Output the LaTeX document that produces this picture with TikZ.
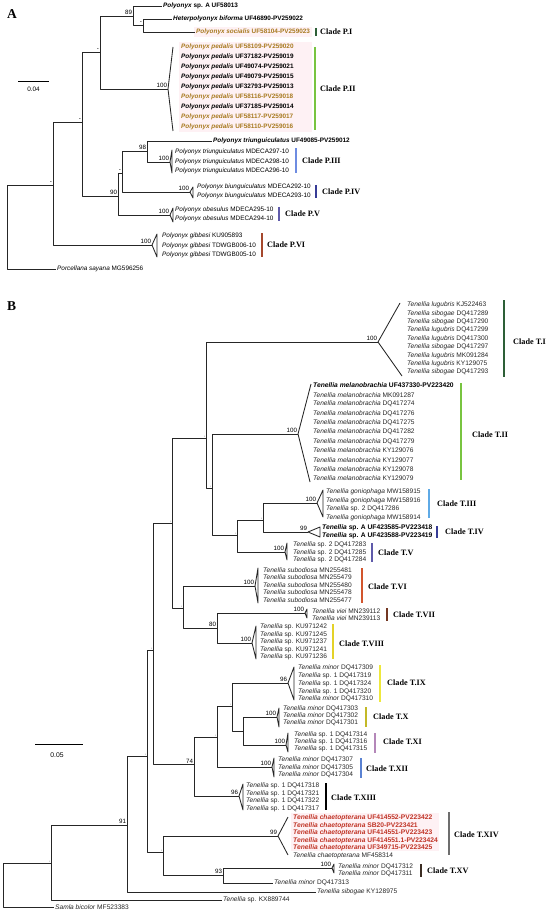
\documentclass[tikz,border=0pt]{standalone}
\usepackage{fontspec}
\setmainfont{Liberation Serif}
\setsansfont{Liberation Sans}

\definecolor{gold}{RGB}{168,122,32}
\definecolor{newred}{RGB}{192,52,38}
\definecolor{hilite}{RGB}{254,241,244}
\definecolor{cdkgreen}{RGB}{45,95,55}
\definecolor{cgreen}{RGB}{120,196,64}
\definecolor{cltblue}{RGB}{110,140,225}
\definecolor{cdkblue}{RGB}{55,60,150}
\definecolor{cslate}{RGB}{95,90,170}
\definecolor{cbrick}{RGB}{165,72,45}
\definecolor{cskyblue}{RGB}{95,170,230}
\definecolor{corange}{RGB}{210,85,45}
\definecolor{cbrown}{RGB}{115,55,35}
\definecolor{cyellow}{RGB}{228,210,40}
\definecolor{clemon}{RGB}{238,232,60}
\definecolor{colive}{RGB}{195,185,40}
\definecolor{cmauve}{RGB}{180,135,185}
\definecolor{cblue}{RGB}{90,130,210}
\definecolor{cgray}{RGB}{110,110,110}
\definecolor{cdark}{RGB}{60,45,35}

\newcommand{\tnl}[1]{\textit{Tenellia #1}}
\newcommand{\plx}[1]{\textit{Polyonyx #1}}

\tikzset{
  br/.style={line width=0.85pt, draw=black!85, line join=round},
  tipA/.style={anchor=west, inner sep=1pt, text=black, font=\sffamily\fontsize{6.4}{7}\selectfont},
  tipAb/.style={anchor=west, inner sep=1pt, text=black, font=\sffamily\bfseries\fontsize{6.4}{7}\selectfont},
  tipB/.style={anchor=west, inner sep=1pt, text=black!85, font=\sffamily\fontsize{6.6}{7}\selectfont},
  tipBb/.style={anchor=west, inner sep=1pt, text=black, font=\sffamily\bfseries\fontsize{6.7}{7}\selectfont},
  boot/.style={anchor=south east, inner sep=0.8pt, font=\sffamily\fontsize{6.2}{6}\selectfont},
  dashB/.style={anchor=south east, inner sep=0.6pt, font=\sffamily\fontsize{3.5}{4}\selectfont},
  clade/.style={anchor=west, inner sep=0pt, font=\bfseries\fontsize{8.2}{9}\selectfont},
  cbar/.style={line width=1.3pt},
  panel/.style={anchor=north west, inner sep=0pt, font=\bfseries\fontsize{13.5}{14}\selectfont},
}

\begin{document}
\begin{tikzpicture}[x=1pt,y=-1pt]
  \useasboundingbox (0,0) rectangle (550,917);

  % highlighted new sequences
  \fill[hilite] (179,42) rectangle (312,132);
  \fill[hilite] (194,27) rectangle (312,37);
  \fill[hilite] (291,813) rectangle (439,851);

  \node[panel] (lA) at (7,9) {A};
  \node[panel] (lB) at (7,301) {B};

  % ---------------- panel A ----------------
  \coordinate (rA) at (7,227);
  \coordinate (a1) at (53,185);
  \coordinate (a2) at (82,122);
  \coordinate (a3) at (100,52);
  \coordinate (a4) at (133,16);
  \coordinate (a5) at (143,25);
  \coordinate (a6) at (118,196);
  \coordinate (a7) at (122,173);
  \coordinate (a8) at (147,151);
  \coordinate (cPII) at (168,89);
  \coordinate (cPIII) at (170,162);
  \coordinate (cPIV) at (190,192);
  \coordinate (cPV) at (170,215);
  \coordinate (cPVI) at (152,245);

  \node[tipAb] (tA1) at (162,6) {\textit{Polyonyx} sp. A UF58013};
  \node[tipAb] (tA2) at (172,19) {\textit{Heterpolyonyx biforma} UF46890-PV259022};
  \node[tipAb,text=gold] (tA3) at (195,32) {\plx{socialis} UF58104-PV259023};
  \node[tipAb,text=gold] (pII1) at (180,47) {\plx{pedalis} UF58109-PV259020};
  \node[tipAb] (pII2) at (180,57) {\plx{pedalis} UF37182-PV259019};
  \node[tipAb] (pII3) at (180,67) {\plx{pedalis} UF49074-PV259021};
  \node[tipAb] (pII4) at (180,77) {\plx{pedalis} UF49079-PV259015};
  \node[tipAb] (pII5) at (180,87) {\plx{pedalis} UF32793-PV259013};
  \node[tipAb,text=gold] (pII6) at (180,97) {\plx{pedalis} UF58116-PV259018};
  \node[tipAb] (pII7) at (180,107) {\plx{pedalis} UF37185-PV259014};
  \node[tipAb,text=gold] (pII8) at (180,117) {\plx{pedalis} UF58117-PV259017};
  \node[tipAb,text=gold] (pII9) at (180,127) {\plx{pedalis} UF58110-PV259016};
  \node[tipAb] (tA5) at (212,141) {\plx{triunguiculatus} UF49085-PV259012};
  \node[tipA] (pIII1) at (174,152) {\plx{triunguiculatus} MDECA297-10};
  \node[tipA] (pIII2) at (174,161.5) {\plx{triunguiculatus} MDECA298-10};
  \node[tipA] (pIII3) at (174,171) {\plx{triunguiculatus} MDECA296-10};
  \node[tipA] (pIV1) at (196,187) {\plx{biunguiculatus} MDECA292-10};
  \node[tipA] (pIV2) at (196,195.5) {\plx{biunguiculatus} MDECA293-10};
  \node[tipA] (pV1) at (174,210) {\plx{obesulus} MDECA295-10};
  \node[tipA] (pV2) at (174,219) {\plx{obesulus} MDECA294-10};
  \node[tipA] (pVI1) at (161,236) {\plx{gibbesi} KU905893};
  \node[tipA] (pVI2) at (161,245.5) {\plx{gibbesi} TDWGB006-10};
  \node[tipA] (pVI3) at (161,255) {\plx{gibbesi} TDWGB005-10};
  \node[tipA] (tA10) at (56,269) {\textit{Porcellana sayana} MG596256};

  \draw[br] (rA) |- (a1);
  \draw[br] (rA) |- (tA10.west);
  \draw[br] (a1) |- (a2);
  \draw[br] (a1) |- (cPVI);
  \draw[br] (a2) |- (a3);
  \draw[br] (a2) |- (a6);
  \draw[br] (a3) |- (a4);
  \draw[br] (a3) |- (cPII);
  \draw[br] (a4) |- (tA1.west);
  \draw[br] (a4) |- (a5);
  \draw[br] (a5) |- (tA2.west);
  \draw[br] (a5) |- (tA3.west);
  \draw[br] (a6) |- (a7);
  \draw[br] (a6) |- (cPV);
  \draw[br] (a7) |- (a8);
  \draw[br] (a7) |- (cPIV);
  \draw[br] (a8) |- (tA5.west);
  \draw[br] (a8) |- (cPIII);

  \draw[br] (173,47) -- (cPII) -- (173,131);
  \draw[br] (cPIII) -- (172,150) -- (172,173) -- cycle;
  \draw[br] (cPIV) -- (193,187) -- (193,198) -- cycle;
  \draw[br] (cPV) -- (173,208) -- (173,222) -- cycle;
  \draw[br] (cPVI) -- (157,234) -- (157,257) -- cycle;

  \node[boot] (sA4) at (a4) {89};
  \node[boot] (sA5) at (a5) {-};
  \node[boot] (sA3) at (a3) {-};
  \node[boot] (sA2) at (a2) {-};
  \node[boot] (sA1) at (a1) {-};
  \node[boot] (sA8) at (a8) {98};
  \node[boot] (sA7) at (a7) {-};
  \node[boot] (sA6) at (a6) {90};
  \node[boot] (sPII) at (cPII) {100};
  \node[boot] (sPIII) at (cPIII) {100};
  \node[boot] (sPIV) at (cPIV) {100};
  \node[boot] (sPV) at (cPV) {100};
  \node[boot] (sPVI) at (cPVI) {100};

  \draw[cbar,cdkgreen] (316,28) -- (316,36);
  \node[clade] (kPI) at (320,32) {Clade P.I};
  \draw[cbar,cgreen] (315,47) -- (315,130);
  \node[clade] (kPII) at (320,89) {Clade P.II};
  \draw[cbar,cltblue] (296,148) -- (296,173);
  \node[clade] (kPIII) at (302,161) {Clade P.III};
  \draw[cbar,cdkblue] (316,185) -- (316,198);
  \node[clade] (kPIV) at (322,192) {Clade P.IV};
  \draw[cbar,cslate] (279,207) -- (279,221);
  \node[clade] (kPV) at (285,214) {Clade P.V};
  \draw[cbar,cbrick] (262,233) -- (262,257);
  \node[clade] (kPVI) at (267,245) {Clade P.VI};

  \draw[line width=0.8pt] (18,81) -- (49,81);
  \node[font=\sffamily\fontsize{6.4}{7}\selectfont, inner sep=0pt] (scA) at (33.5,89) {0.04};

  % ---------------- panel B ----------------
  \coordinate (rB) at (3,885);
  \coordinate (b1) at (51,863);
  \coordinate (b2) at (127,825);
  \coordinate (b3) at (147,756);
  \coordinate (b4) at (153,650);
  \coordinate (b5) at (172,523);
  \coordinate (b6) at (206,438);
  \coordinate (b7) at (212,488);
  \coordinate (b8) at (237,535);
  \coordinate (b9) at (263,520);
  \coordinate (b10) at (183,608);
  \coordinate (b11) at (217,628);
  \coordinate (b12) at (194,764);
  \coordinate (b13) at (217,737);
  \coordinate (b14) at (232,706);
  \coordinate (b15) at (243,731);
  \coordinate (b16) at (163,852);
  \coordinate (b17) at (223,875);
  \coordinate (cTI) at (378,342);
  \coordinate (cTII) at (298,434);
  \coordinate (cTIII) at (317,503);
  \coordinate (cTIV) at (308,532);
  \coordinate (cTV) at (285,552);
  \coordinate (cTVI) at (255,586);
  \coordinate (cTVII) at (305,613);
  \coordinate (cTVIII) at (252,643);
  \coordinate (cTIX) at (288,683);
  \coordinate (cTX) at (277,717);
  \coordinate (cTXI) at (286,745);
  \coordinate (cTXII) at (272,767);
  \coordinate (cTXIII) at (239,796);
  \coordinate (cTXIV) at (278,836);
  \coordinate (cTXV) at (332,868);

  % T.I
  \node[tipB] (tI1) at (406,305) {\tnl{lugubris} KJ522463};
  \node[tipB] (tI2) at (406,313.4) {\tnl{sibogae} DQ417289};
  \node[tipB] (tI3) at (406,321.8) {\tnl{sibogae} DQ417290};
  \node[tipB] (tI4) at (406,330.2) {\tnl{lugubris} DQ417299};
  \node[tipB] (tI5) at (406,338.6) {\tnl{lugubris} DQ417300};
  \node[tipB] (tI6) at (406,347) {\tnl{sibogae} DQ417297};
  \node[tipB] (tI7) at (406,355.4) {\tnl{lugubris} MK091284};
  \node[tipB] (tI8) at (406,363.8) {\tnl{lugubris} KY129075};
  \node[tipB] (tI9) at (406,372.2) {\tnl{sibogae} DQ417293};
  % T.II
  \node[tipBb] (tII1) at (312,385.5) {\tnl{melanobrachia} UF437330-PV223420};
  \node[tipB] (tII2) at (312,394.8) {\tnl{melanobrachia} MK091287};
  \node[tipB] (tII3) at (312,404.1) {\tnl{melanobrachia} DQ417274};
  \node[tipB] (tII4) at (312,413.4) {\tnl{melanobrachia} DQ417276};
  \node[tipB] (tII5) at (312,422.7) {\tnl{melanobrachia} DQ417275};
  \node[tipB] (tII6) at (312,432) {\tnl{melanobrachia} DQ417282};
  \node[tipB] (tII7) at (312,441.3) {\tnl{melanobrachia} DQ417279};
  \node[tipB] (tII8) at (312,450.6) {\tnl{melanobrachia} KY129076};
  \node[tipB] (tII9) at (312,459.9) {\tnl{melanobrachia} KY129077};
  \node[tipB] (tII10) at (312,469.2) {\tnl{melanobrachia} KY129078};
  \node[tipB] (tII11) at (312,478.5) {\tnl{melanobrachia} KY129079};
  % T.III - T.V
  \node[tipB] (tIII1) at (325,492) {\tnl{goniophaga} MW158915};
  \node[tipB] (tIII2) at (325,500.5) {\tnl{goniophaga} MW158916};
  \node[tipB] (tIII3) at (325,509) {\textit{Tenellia} sp. 2 DQ417286};
  \node[tipB] (tIII4) at (325,517.5) {\tnl{goniophaga} MW158914};
  \node[tipBb] (tIV1) at (321,528) {\textit{Tenellia} sp. A UF423585-PV223418};
  \node[tipBb] (tIV2) at (321,536) {\textit{Tenellia} sp. A UF423588-PV223419};
  \node[tipB] (tV1) at (292,545) {\textit{Tenellia} sp. 2 DQ417283};
  \node[tipB] (tV2) at (292,552.5) {\textit{Tenellia} sp. 2 DQ417285};
  \node[tipB] (tV3) at (292,560) {\textit{Tenellia} sp. 2 DQ417284};
  % T.VI - T.VIII
  \node[tipB] (tVI1) at (262,570) {\tnl{subodiosa} MN255481};
  \node[tipB] (tVI2) at (262,577.5) {\tnl{subodiosa} MN255479};
  \node[tipB] (tVI3) at (262,585) {\tnl{subodiosa} MN255480};
  \node[tipB] (tVI4) at (262,592.5) {\tnl{subodiosa} MN255478};
  \node[tipB] (tVI5) at (262,600) {\tnl{subodiosa} MN255477};
  \node[tipB] (tVII1) at (311,611) {\tnl{viei} MN239112};
  \node[tipB] (tVII2) at (311,618) {\tnl{viei} MN239113};
  \node[tipB] (tVIII1) at (259,627) {\textit{Tenellia} sp. KU971242};
  \node[tipB] (tVIII2) at (259,634.5) {\textit{Tenellia} sp. KU971245};
  \node[tipB] (tVIII3) at (259,642) {\textit{Tenellia} sp. KU971237};
  \node[tipB] (tVIII4) at (259,649.5) {\textit{Tenellia} sp. KU971241};
  \node[tipB] (tVIII5) at (259,657) {\textit{Tenellia} sp. KU971236};
  % T.IX - T.XIII
  \node[tipB] (tIX1) at (297,668) {\tnl{minor} DQ417309};
  \node[tipB] (tIX2) at (297,675.8) {\textit{Tenellia} sp. 1 DQ417319};
  \node[tipB] (tIX3) at (297,683.5) {\textit{Tenellia} sp. 1 DQ417324};
  \node[tipB] (tIX4) at (297,691.3) {\textit{Tenellia} sp. 1 DQ417320};
  \node[tipB] (tIX5) at (297,699) {\tnl{minor} DQ417310};
  \node[tipB] (tX1) at (282,709) {\tnl{minor} DQ417303};
  \node[tipB] (tX2) at (282,716) {\tnl{minor} DQ417302};
  \node[tipB] (tX3) at (282,723) {\tnl{minor} DQ417301};
  \node[tipB] (tXI1) at (293,735) {\textit{Tenellia} sp. 1 DQ417314};
  \node[tipB] (tXI2) at (293,742) {\textit{Tenellia} sp. 1 DQ417316};
  \node[tipB] (tXI3) at (293,749) {\textit{Tenellia} sp. 1 DQ417315};
  \node[tipB] (tXII1) at (277,760) {\tnl{minor} DQ417307};
  \node[tipB] (tXII2) at (277,767.5) {\tnl{minor} DQ417305};
  \node[tipB] (tXII3) at (277,775) {\tnl{minor} DQ417304};
  \node[tipB] (tXIII1) at (245,786) {\textit{Tenellia} sp. 1 DQ417318};
  \node[tipB] (tXIII2) at (245,793.5) {\textit{Tenellia} sp. 1 DQ417321};
  \node[tipB] (tXIII3) at (245,801) {\textit{Tenellia} sp. 1 DQ417322};
  \node[tipB] (tXIII4) at (245,808.5) {\textit{Tenellia} sp. 1 DQ417317};
  % T.XIV - T.XV
  \node[tipBb,text=newred] (tXIV1) at (292,818) {\tnl{chaetopterana} UF414552-PV223422};
  \node[tipBb,text=newred] (tXIV2) at (292,825.5) {\tnl{chaetopterana} SB20-PV223421};
  \node[tipBb,text=newred] (tXIV3) at (292,833) {\tnl{chaetopterana} UF414551-PV223423};
  \node[tipBb,text=newred] (tXIV4) at (292,840.5) {\tnl{chaetopterana} UF414551.1-PV223424};
  \node[tipBb,text=newred] (tXIV5) at (292,848) {\tnl{chaetopterana} UF349715-PV223425};
  \node[tipB] (tXIV6) at (292,855.5) {\tnl{chaetopterana} MF458314};
  \node[tipB] (tXV1) at (337,867) {\tnl{minor} DQ417312};
  \node[tipB] (tXV2) at (337,874) {\tnl{minor} DQ417311};
  % single tips
  \node[tipB] (tD13) at (273,883) {\tnl{minor} DQ417313};
  \node[tipB] (tKY) at (316,892) {\tnl{sibogae} KY128975};
  \node[tipB] (tKX) at (222,900) {\textit{Tenellia} sp. KX889744};
  \node[tipB] (tSam) at (54,907) {\textit{Samla bicolor} MF523383};

  \draw[br] (rB) |- (b1);
  \draw[br] (rB) |- (tSam.west);
  \draw[br] (b1) |- (b2);
  \draw[br] (b1) |- (tKX.west);
  \draw[br] (b2) |- (b3);
  \draw[br] (b2) |- (tKY.west);
  \draw[br] (b3) |- (b4);
  \draw[br] (b3) |- (b16);
  \draw[br] (b4) |- (b5);
  \draw[br] (b4) |- (b12);
  \draw[br] (b5) |- (b6);
  \draw[br] (b5) |- (b10);
  \draw[br] (b6) |- (cTI);
  \draw[br] (b6) |- (b7);
  \draw[br] (b7) |- (cTII);
  \draw[br] (b7) |- (b8);
  \draw[br] (b8) |- (b9);
  \draw[br] (b8) |- (cTV);
  \draw[br] (b9) |- (cTIII);
  \draw[br] (b9) |- (cTIV);
  \draw[br] (b10) |- (cTVI);
  \draw[br] (b10) |- (b11);
  \draw[br] (b11) |- (cTVII);
  \draw[br] (b11) |- (cTVIII);
  \draw[br] (b12) |- (b13);
  \draw[br] (b12) |- (cTXIII);
  \draw[br] (b13) |- (b14);
  \draw[br] (b13) |- (cTXII);
  \draw[br] (b14) |- (cTIX);
  \draw[br] (b14) |- (b15);
  \draw[br] (b15) |- (cTX);
  \draw[br] (b15) |- (cTXI);
  \draw[br] (b16) |- (cTXIV);
  \draw[br] (b16) |- (b17);
  \draw[br] (b17) |- (cTXV);
  \draw[br] (b17) |- (tD13.west);

  \draw[br] (400,303) -- (cTI) -- (402,376);
  \draw[br] (311,384) -- (cTII) -- (310,482);
  \draw[br] (cTIII) -- (323,490) -- (323,517) -- cycle;
  \draw[br] (cTIV) -- (320,527) -- (320,537) -- cycle;
  \draw[br] (cTV) -- (287,543) -- (287,560) -- cycle;
  \draw[br] (cTVI) -- (258,568) -- (258,603) -- cycle;
  \draw[br] (cTVII) -- (307,609) -- (307,618) -- cycle;
  \draw[br] (cTVIII) -- (256,626) -- (256,659) -- cycle;
  \draw[br] (cTIX) -- (294,667) -- (294,700) -- cycle;
  \draw[br] (cTX) -- (279,708) -- (279,727) -- cycle;
  \draw[br] (cTXI) -- (288,733) -- (288,752) -- cycle;
  \draw[br] (cTXII) -- (274,758) -- (274,777) -- cycle;
  \draw[br] (cTXIII) -- (243,784) -- (243,810) -- cycle;
  \draw[br] (288,817) -- (cTXIV) -- (288,855);
  \draw[br] (cTXV) -- (334,864) -- (334,873) -- cycle;

  \node[boot] (sTI) at (cTI) {100};
  \node[boot] (sTII) at (cTII) {100};
  \node[boot] (sTIII) at (cTIII) {100};
  \node[boot] (sTIV) at (cTIV) {99};
  \node[boot] (sTV) at (cTV) {100};
  \node[boot] (sTVI) at (cTVI) {100};
  \node[boot] (sTVII) at (cTVII) {100};
  \node[boot] (sTVIII) at (cTVIII) {100};
  \node[boot] (sTIX) at (cTIX) {96};
  \node[boot] (sTX) at (cTX) {100};
  \node[boot] (sTXI) at (cTXI) {100};
  \node[boot] (sTXII) at (cTXII) {100};
  \node[boot] (sTXIII) at (cTXIII) {96};
  \node[boot] (sTXIV) at (cTXIV) {99};
  \node[boot] (sTXV) at (cTXV) {100};
  \node[boot] (sB2) at (b2) {91};
  \node[boot] (sB11) at (b11) {80};
  \node[boot] (sB12) at (b12) {74};
  \node[boot] (sB17) at (b17) {93};
  \node[dashB] (sB1) at (b1) {-};
  \node[dashB] (sB3) at (b3) {-};
  \node[dashB] (sB4) at (b4) {-};
  \node[dashB] (sB5) at (b5) {-};
  \node[dashB] (sB6) at (b6) {-};
  \node[dashB] (sB7) at (b7) {-};
  \node[dashB] (sB8) at (b8) {-};
  \node[dashB] (sB9) at (b9) {-};
  \node[dashB] (sB10) at (b10) {-};
  \node[dashB] (sB13) at (b13) {-};
  \node[dashB] (sB14) at (b14) {-};
  \node[dashB] (sB16) at (b16) {-};

  \draw[cbar,cdkgreen] (504,300) -- (504,377);
  \node[clade] (kTI) at (513,342) {Clade T.I};
  \draw[cbar,cgreen] (461,383) -- (461,480);
  \node[clade] (kTII) at (472,435) {Clade T.II};
  \draw[cbar,cskyblue] (429,489) -- (429,518);
  \node[clade] (kTIII) at (437,504) {Clade T.III};
  \draw[cbar,cdkblue] (437,526) -- (437,538);
  \node[clade] (kTIV) at (445,532) {Clade T.IV};
  \draw[cbar,cslate] (372,543) -- (372,562);
  \node[clade] (kTV) at (378,553) {Clade T.V};
  \draw[cbar,corange] (362,568) -- (362,603);
  \node[clade] (kTVI) at (368,587) {Clade T.VI};
  \draw[cbar,cbrown] (387,608) -- (387,621);
  \node[clade] (kTVII) at (393,615) {Clade T.VII};
  \draw[cbar,cyellow] (333,624) -- (333,659);
  \node[clade] (kTVIII) at (339,644) {Clade T.VIII};
  \draw[cbar,clemon] (380,665) -- (380,702);
  \node[clade] (kTIX) at (387,683) {Clade T.IX};
  \draw[cbar,colive] (366,707) -- (366,727);
  \node[clade] (kTX) at (373,717) {Clade T.X};
  \draw[cbar,cmauve] (375,733) -- (375,753);
  \node[clade] (kTXI) at (383,742) {Clade T.XI};
  \draw[cbar,cblue] (361,758) -- (361,778);
  \node[clade] (kTXII) at (366,769) {Clade T.XII};
  \draw[cbar,black] (326,783) -- (326,810);
  \node[clade] (kTXIII) at (331,798) {Clade T.XIII};
  \draw[cbar,cgray] (449,812) -- (449,855);
  \node[clade] (kTXIV) at (454,835) {Clade T.XIV};
  \draw[cbar,cdark] (421,864) -- (421,877);
  \node[clade] (kTXV) at (427,871) {Clade T.XV};

  \draw[line width=0.8pt] (35,744) -- (83,744);
  \node[font=\sffamily\fontsize{6.8}{7}\selectfont, inner sep=0pt] (scB) at (57,755) {0.05};
\end{tikzpicture}
\end{document}
